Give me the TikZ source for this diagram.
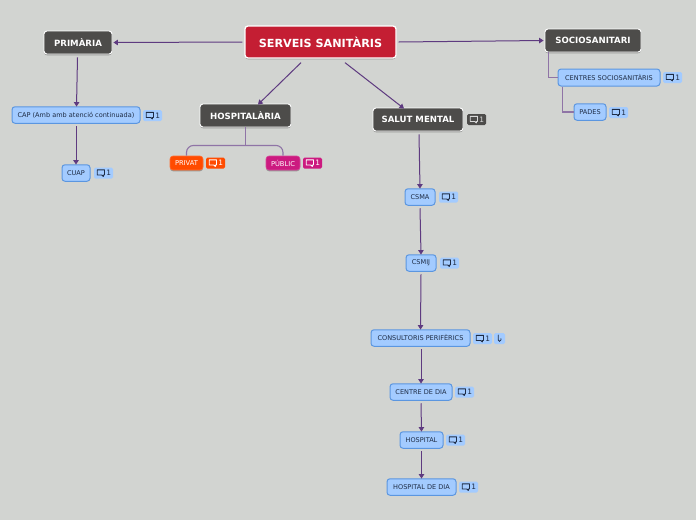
\documentclass[tikz,border=0pt]{standalone}
\usepackage{fontspec}
\setmainfont{DejaVu Sans}
\usetikzlibrary{shadows,arrows.meta,calc}
\definecolor{bgc}{HTML}{D2D4D1}
\definecolor{linec}{HTML}{5E3A80}
\definecolor{linel}{HTML}{8F74A6}
\definecolor{darkn}{HTML}{4D4C4A}
\definecolor{rootc}{HTML}{C41E33}
\definecolor{bluef}{HTML}{A3CBFF}
\definecolor{blued}{HTML}{5B96E0}
\definecolor{bluet}{HTML}{1E2C45}
\definecolor{orangec}{HTML}{FF4B00}
\definecolor{pinkc}{HTML}{CC1A80}
\tikzset{
  x=1pt,y=-1pt,
  softshadow/.style={drop shadow={shadow xshift=0pt,shadow yshift=-1.3pt,fill=black,opacity=.28}},
  basebox/.style={rounded corners=3pt,inner sep=0pt,align=center},
  rootbox/.style={basebox,fill=rootc,draw=white,line width=1.3pt,text=white,softshadow,font=\bfseries\fontsize{11.2}{13}\selectfont},
  mainbox/.style={basebox,fill=darkn,draw=white,line width=.9pt,text=white,softshadow,font=\bfseries\fontsize{8.6}{10}\selectfont},
  subbox/.style={basebox,fill=bluef,draw=blued,line width=1pt,text=bluet,font=\fontsize{6.55}{8}\selectfont},
  colbox/.style={basebox,draw=#1!80!white,fill=#1,text=white,line width=.6pt,softshadow,font=\fontsize{6.7}{8}\selectfont},
  badgebox/.style={rounded corners=1.5pt,inner sep=0pt,fill=#1,minimum width=19pt,minimum height=11pt},
  link/.style={draw=linec,line width=1pt,-{Triangle[length=4.5pt,width=5.5pt]}},
  tree/.style={draw=linel,line width=1.1pt,rounded corners=7pt},
  elbow/.style={draw=linel,line width=1.1pt}
}
% name, centre x, centre y, fill, text colour
\newcommand{\cbadge}[5]{%
  \node[badgebox=#4] (#1) at (#2,#3) {};
  \draw[#5,line width=.9pt,line join=round] (#2-6.3,#3-3.2) -- (#2+1,#3-3.2) -- (#2+1,#3+2) -- (#2-.2,#3+2) -- (#2-.2,#3+3.4) -- (#2-1.7,#3+2) -- (#2-6.3,#3+2) -- cycle;
  \node[text=#5,inner sep=0pt,font=\fontsize{7.4}{8}\selectfont] at (#2+5.2,#3) {1};
}
\begin{document}
\begin{tikzpicture}
\useasboundingbox[fill=bgc] (0,0) rectangle (696,520);
% nodes
\node[rootbox,minimum width=151pt,minimum height=32pt] (root) at (320.5,42) {SERVEIS SANITÀRIS};
\node[mainbox,minimum width=68pt,minimum height=23pt] (prim) at (78,42.5) {PRIMÀRIA};
\node[mainbox,minimum width=91pt,minimum height=23pt] (hosp) at (245.5,115.5) {HOSPITALÀRIA};
\node[mainbox,minimum width=90pt,minimum height=23pt] (salut) at (418,119.5) {SALUT MENTAL};
\node[mainbox,minimum width=96pt,minimum height=23pt] (socio) at (593,40.5) {SOCIOSANITARI};
\node[subbox,minimum width=128pt,minimum height=16.5pt] (cap) at (76,115) {CAP (Amb amb atenció continuada)};
\node[subbox,minimum width=28pt,minimum height=16.5pt] (cuap) at (76,173) {CUAP};
\node[colbox=orangec,minimum width=33pt,minimum height=14pt] (privat) at (186.5,163) {PRIVAT};
\node[colbox=pinkc,minimum width=34pt,minimum height=14pt] (public) at (283,163) {PÚBLIC};
\node[subbox,minimum width=102pt,minimum height=17pt] (centres) at (609,77.5) {CENTRES SOCIOSANITÀRIS};
\node[subbox,minimum width=32pt,minimum height=16.5pt] (pades) at (590,112) {PADES};
\node[subbox,minimum width=30pt,minimum height=16.5pt] (csma) at (420,197) {CSMA};
\node[subbox,minimum width=30pt,minimum height=16.5pt] (csmij) at (421,263) {CSMIJ};
\node[subbox,minimum width=99pt,minimum height=16.5pt] (consult) at (420.5,338) {CONSULTORIS PERIFÈRICS};
\node[subbox,minimum width=62pt,minimum height=16.5pt] (cdia) at (421,392) {CENTRE DE DIA};
\node[subbox,minimum width=43pt,minimum height=16.5pt] (hospital) at (421.5,440) {HOSPITAL};
\node[subbox,minimum width=69pt,minimum height=16.5pt] (hdia) at (421.5,487) {HOSPITAL DE DIA};
% badges
\cbadge{b1}{476.5}{119.5}{darkn}{white!85!black}
\cbadge{b2}{152.5}{115.5}{bluef}{bluet}
\cbadge{b3}{103.5}{173}{bluef}{bluet}
\cbadge{b4}{215.5}{163}{orangec}{white}
\cbadge{b5}{312.5}{163}{pinkc}{white}
\cbadge{b6}{672.5}{77.5}{bluef}{bluet}
\cbadge{b7}{618.5}{112.5}{bluef}{bluet}
\cbadge{b8}{448.5}{197}{bluef}{bluet}
\cbadge{b9}{449.5}{263}{bluef}{bluet}
\cbadge{b10}{482.5}{338.5}{bluef}{bluet}
\cbadge{b11}{464.5}{392}{bluef}{bluet}
\cbadge{b12}{455.5}{440}{bluef}{bluet}
\cbadge{b13}{468.5}{487}{bluef}{bluet}
% attachment badge
\node[rounded corners=1.5pt,inner sep=0pt,fill=bluef,minimum width=11pt,minimum height=11pt] (att) at (499.5,338.5) {};
\draw[bluet,line width=.8pt,line cap=round] (498.3,335) -- (498.3,340) arc[start angle=180,end angle=360,radius=1.3pt] -- (500.9,338.6);
% arrows
\draw[link] ([xshift=-2pt]root.west) -- ([xshift=1pt]prim.east);
\draw[link] ([xshift=2pt]root.east) -- ([xshift=-1pt]socio.west);
\draw[link] ([xshift=-19.5pt,yshift=-4pt]root.south) -- ([xshift=12.5pt,yshift=-1pt]hosp.north);
\draw[link] ([xshift=24.5pt,yshift=-4pt]root.south) -- ([xshift=-14pt,yshift=-1pt]salut.north);
\draw[link] ([yshift=-3pt,xshift=-.5pt]prim.south) -- ([xshift=.5pt,yshift=-.3pt]cap.north);
\draw[link] ([yshift=-2.5pt]cap.south) -- ([yshift=-.3pt]cuap.north);
\draw[link] ([yshift=-3pt,xshift=1pt]salut.south) -- ([yshift=-.3pt]csma.north);
\draw[link] ([yshift=-2.5pt]csma.south) -- ([yshift=-.3pt]csmij.north);
\draw[link] ([yshift=-2.5pt]csmij.south) -- ([yshift=-.3pt]consult.north);
\draw[link] ([yshift=-2.5pt,xshift=.5pt]consult.south) -- ([yshift=-.3pt]cdia.north);
\draw[link] ([yshift=-2.5pt]cdia.south) -- ([yshift=-.3pt]hospital.north);
\draw[link] ([yshift=-2.5pt]hospital.south) -- ([yshift=-.3pt]hdia.north);
% tree connectors
\draw[tree] (hosp.south) -- ++(0,18) coordinate (hj);
\draw[tree] (privat.north) |- (hj) -| (public.north);
\draw[elbow] ([xshift=4pt]socio.south west) |- (centres.west);
\draw[elbow] ([xshift=5pt]centres.south west) |- (pades.west);
\end{tikzpicture}
\end{document}
